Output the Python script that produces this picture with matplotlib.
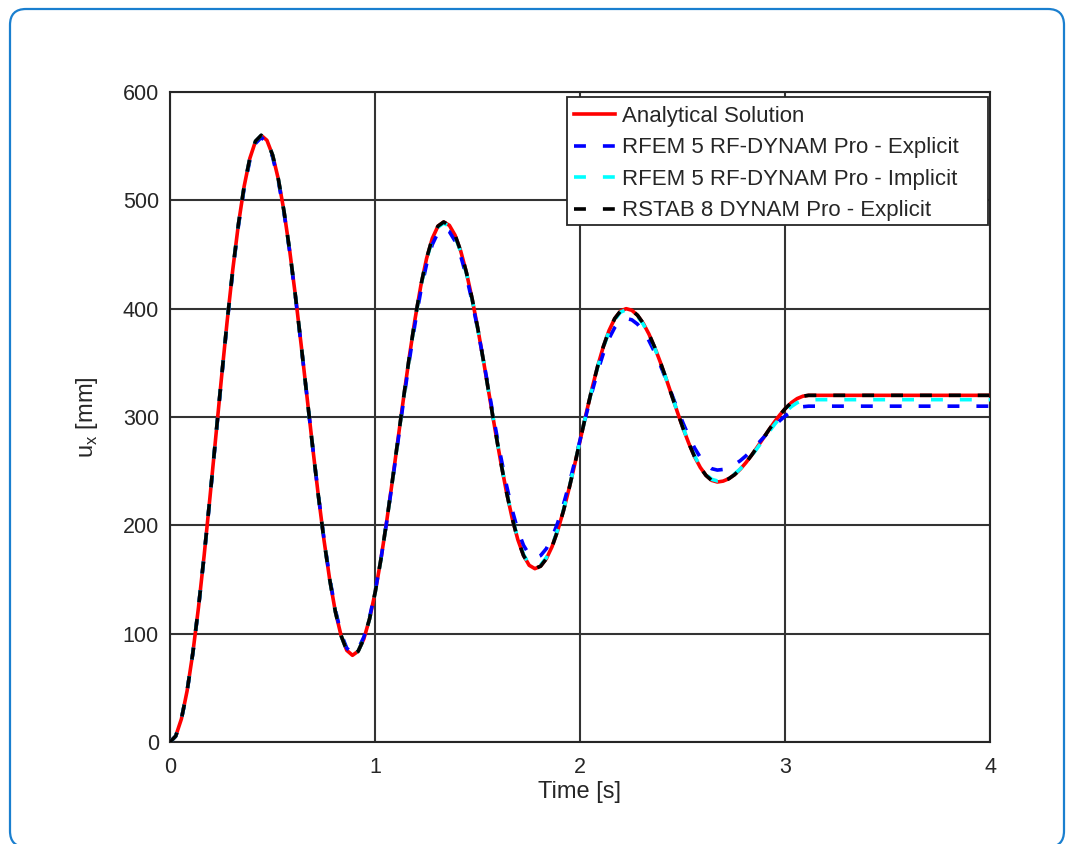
import numpy as np
import matplotlib
matplotlib.use("Agg")
import matplotlib.pyplot as plt
from matplotlib.patches import FancyBboxPatch, Rectangle
from matplotlib.transforms import IdentityTransform

plt.rcParams['font.family'] = ['Liberation Sans', 'DejaVu Sans']

# ---------------- data ----------------
# time grid: 16 samples per half oscillation (half period ~0.445 s), then end of plot
time_s = list(np.linspace(0.0, 3.115, 113)) + [4.0]

analytical_ux = [
    0, 5.4, 21.3, 47.2, 82.0, 124.4, 172.8, 225.4, 280, 334.6, 387.2, 435.6, 478.0, 512.8, 538.7, 554.6, 560,
    555.4, 541.7, 519.6, 489.7, 453.3, 411.8, 366.8, 320, 273.2, 228.2, 186.7, 150.3, 120.4, 98.3, 84.6, 80,
    83.8, 95.2, 113.7, 138.6, 168.9, 203.5, 241.0, 280, 319.0, 356.5, 391.1, 421.4, 446.3, 464.8, 476.2, 480,
    476.9, 467.8, 453.0, 433.1, 408.9, 381.2, 351.2, 320, 288.8, 258.8, 231.1, 206.9, 186.9, 172.2, 163.1, 160,
    162.3, 169.1, 180.2, 195.2, 213.3, 234.1, 256.6, 280, 303.4, 325.9, 346.7, 364.9, 379.8, 390.9, 397.7, 400,
    398.5, 393.9, 386.5, 376.6, 364.4, 350.6, 335.6, 320, 304.4, 289.4, 275.6, 263.4, 253.5, 246.1, 241.5, 240,
    240.8, 243.0, 246.7, 251.7, 257.8, 264.7, 272.2, 280, 287.8, 295.3, 302.2, 308.3, 313.3, 317.0, 319.2, 320,
    320,
]

rfem_explicit_ux = [
    0, 5.4, 21.2, 47.0, 81.7, 124.0, 172.2, 224.6, 279, 333.4, 385.8, 434.0, 476.3, 511.0, 536.8, 552.6, 558,
    553.4, 539.9, 517.9, 488.3, 452.2, 411.1, 366.4, 320, 273.6, 228.9, 187.8, 151.7, 122.1, 100.1, 86.6, 82,
    85.8, 96.9, 115.0, 139.4, 169.1, 203.0, 239.8, 278, 316.2, 353.0, 386.9, 416.6, 441.0, 459.1, 470.2, 474,
    471.1, 462.4, 448.4, 429.5, 406.5, 380.2, 351.7, 322, 292.3, 263.8, 237.5, 214.5, 195.6, 181.6, 172.9, 170,
    172.1, 178.4, 188.6, 202.4, 219.1, 238.2, 258.9, 280.5, 302.1, 322.8, 341.9, 358.6, 372.4, 382.6, 388.9, 391,
    389.7, 385.7, 379.2, 370.5, 359.9, 347.8, 334.7, 321, 307.3, 294.2, 282.1, 271.5, 262.8, 256.3, 252.3, 251,
    251.6, 253.3, 256.0, 259.6, 264.1, 269.2, 274.7, 280.5, 286.3, 291.8, 296.9, 301.4, 305.1, 307.8, 309.5, 310,
    310,
]

rfem_implicit_ux = [
    0, 5.4, 21.3, 47.2, 82.0, 124.4, 172.8, 225.4, 280, 334.6, 387.2, 435.6, 478.0, 512.8, 538.7, 554.6, 560,
    555.4, 541.7, 519.6, 489.7, 453.3, 411.8, 366.8, 320, 273.2, 228.2, 186.7, 150.3, 120.4, 98.3, 84.6, 80,
    83.8, 95.2, 113.6, 138.4, 168.7, 203.2, 240.6, 279.5, 318.4, 355.9, 390.3, 420.6, 445.4, 463.8, 475.2, 479,
    476.0, 466.9, 452.2, 432.4, 408.3, 380.9, 351.0, 320, 289.0, 259.2, 231.7, 207.6, 187.8, 173.1, 164.1, 161,
    163.3, 170.1, 181.1, 195.9, 213.9, 234.5, 256.8, 280, 303.2, 325.5, 346.1, 364.2, 379.0, 389.9, 396.7, 399,
    397.5, 393.0, 385.7, 375.9, 363.9, 350.2, 335.4, 320, 304.6, 289.8, 276.1, 264.1, 254.3, 247.0, 242.5, 241,
    241.7, 243.9, 247.3, 252.0, 257.7, 264.2, 271.2, 278.5, 285.8, 292.9, 299.3, 305.0, 309.7, 313.2, 315.3, 316,
    316,
]

# RSTAB curve reads identical to the analytical solution
rstab_explicit_ux = list(analytical_ux)

series_labels = [
    "Analytical Solution",
    "RFEM 5 RF-DYNAM Pro - Explicit",
    "RFEM 5 RF-DYNAM Pro - Implicit",
    "RSTAB 8 DYNAM Pro - Explicit",
]
x_ticks = [0, 1, 2, 3, 4]
y_ticks = [0, 100, 200, 300, 400, 500, 600]

# ---------------- figure ----------------
W, H = 1069, 844
fig = plt.figure(figsize=(W / 100, H / 100), dpi=100)
fig.patch.set_facecolor('white')

# rounded blue frame
frame = FancyBboxPatch((10, -3), 1054, 838, boxstyle="round,pad=0,rounding_size=16",
                       transform=IdentityTransform(), facecolor='none',
                       edgecolor='#1a7fcf', linewidth=1.6, zorder=0)
fig.patches.append(frame)

ax_l, ax_r, ax_t, ax_b = 170, 990, 92, 742
ax = fig.add_axes([ax_l / W, 1 - ax_b / H, (ax_r - ax_l) / W, (ax_b - ax_t) / H])

lw = 2.6
dash = (3.3, 4.7)
ax.plot(time_s, analytical_ux, color='#ff0000', lw=lw, label=series_labels[0], zorder=3)
ax.plot(time_s, rfem_explicit_ux, color='#0000ff', lw=lw, dashes=dash, label=series_labels[1], zorder=4)
ax.plot(time_s, rfem_implicit_ux, color='#00ffff', lw=lw, dashes=dash, label=series_labels[2], zorder=5)
ax.plot(time_s, rstab_explicit_ux, color='#000000', lw=lw, dashes=dash, label=series_labels[3], zorder=6)

ax.set_xlim(0, 4)
ax.set_ylim(0, 600)
ax.set_xticks(x_ticks)
ax.set_yticks(y_ticks)
ax.tick_params(axis='both', direction='in', length=0, labelsize=15.5, colors='#262626')
ax.tick_params(axis='x', pad=11)
ax.tick_params(axis='y', pad=8)
for lab in ax.get_yticklabels():
    lab.set_va('center_baseline')
ax.grid(True, color='#333333', linewidth=1.5, alpha=1.0)
ax.set_axisbelow(True)
for s in ax.spines.values():
    s.set_color('#262626')
    s.set_linewidth(1.5)

ax.set_xlabel("Time [s]", fontsize=17, color='#262626', labelpad=2)
ax.set_ylabel(r"u$_{\mathregular{x}}$ [mm]", fontsize=17, color='#262626', labelpad=16)

# legend box (pixel extents from the reference)
lg_l, lg_r, lg_t, lg_b = 567, 988, 97, 225
fx0 = (lg_l - ax_l) / (ax_r - ax_l)
fx1 = (lg_r - ax_l) / (ax_r - ax_l)
fy1 = (ax_b - lg_t) / (ax_b - ax_t)
fy0 = (ax_b - lg_b) / (ax_b - ax_t)
box = Rectangle((fx0, fy0), fx1 - fx0, fy1 - fy0, transform=ax.transAxes,
                facecolor='white', edgecolor='#262626', linewidth=1.3, zorder=7, clip_on=False)
ax.add_patch(box)

leg = ax.legend(loc='upper left', bbox_to_anchor=(fx0 - 3.5 / (ax_r - ax_l), fy1 + 1 / (ax_b - ax_t)),
                fontsize=16, frameon=False,
                borderaxespad=0.0, handlelength=1.85, handletextpad=0.32,
                labelspacing=0.47, borderpad=0.45)
leg.set_zorder(8)
for t in leg.get_texts():
    t.set_color('#262626')

fig.savefig("out.png", dpi=100)
